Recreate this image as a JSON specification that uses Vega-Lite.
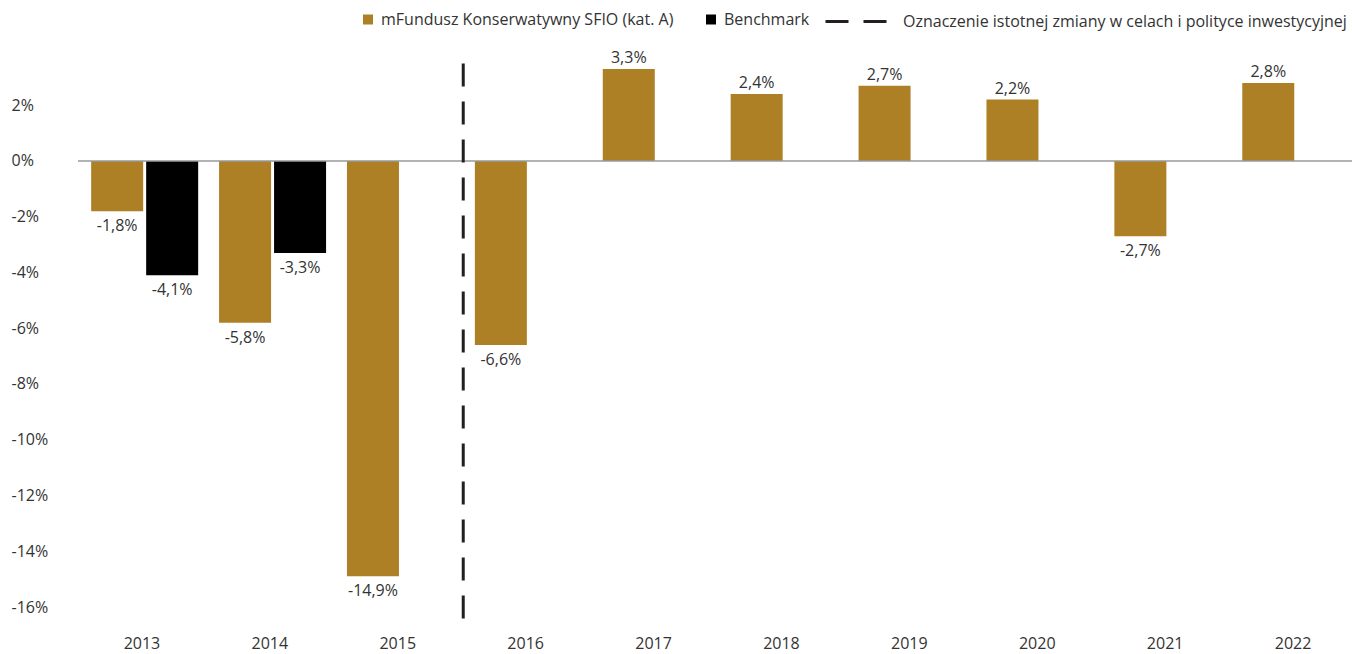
{
  "$schema": "https://vega.github.io/schema/vega-lite/v6.json",
  "width": 1274,
  "height": 599.4,
  "autosize": "none",
  "padding": {"left": 78, "top": 35.5, "right": 0, "bottom": 19.1},
  "background": "white",
  "config": {
    "view": {"stroke": null},
    "font": "Open Sans",
    "locale": {"number": {"decimal": ",", "thousands": " ", "grouping": [3], "currency": ["", ""], "minus": "-"}}
  },
  "datasets": {
    "bars": [
      {"year": "2013", "series": "mFundusz Konserwatywny SFIO (kat. A)", "value": -0.018},
      {"year": "2013", "series": "Benchmark", "value": -0.041},
      {"year": "2014", "series": "mFundusz Konserwatywny SFIO (kat. A)", "value": -0.058},
      {"year": "2014", "series": "Benchmark", "value": -0.033},
      {"year": "2015", "series": "mFundusz Konserwatywny SFIO (kat. A)", "value": -0.149},
      {"year": "2016", "series": "mFundusz Konserwatywny SFIO (kat. A)", "value": -0.066},
      {"year": "2017", "series": "mFundusz Konserwatywny SFIO (kat. A)", "value": 0.033},
      {"year": "2018", "series": "mFundusz Konserwatywny SFIO (kat. A)", "value": 0.024},
      {"year": "2019", "series": "mFundusz Konserwatywny SFIO (kat. A)", "value": 0.027},
      {"year": "2020", "series": "mFundusz Konserwatywny SFIO (kat. A)", "value": 0.022},
      {"year": "2021", "series": "mFundusz Konserwatywny SFIO (kat. A)", "value": -0.027},
      {"year": "2022", "series": "mFundusz Konserwatywny SFIO (kat. A)", "value": 0.028}
    ],
    "marker": [
      {"year": "2016", "label": "Oznaczenie istotnej zmiany w celach i polityce inwestycyjnej"}
    ]
  },
  "data": {"name": "bars"},
  "layer": [
    {
      "mark": {"type": "bar"},
      "encoding": {
        "x": {
          "field": "year", "type": "nominal",
          "sort": ["2013","2014","2015","2016","2017","2018","2019","2020","2021","2022"],
          "scale": {"paddingInner": 0, "paddingOuter": 0, "range": [0, 1279]},
          "axis": {"title": null, "domain": false, "ticks": false, "labelAngle": 0, "labelPadding": 1, "labelFontSize": 16, "labelColor": "#333333"}
        },
        "xOffset": {
          "field": "series", "type": "nominal",
          "scale": {"domain": ["mFundusz Konserwatywny SFIO (kat. A)", "Benchmark"], "paddingInner": 0.0545, "paddingOuter": 0.19, "align": 0.63}
        },
        "y": {
          "field": "value", "type": "quantitative",
          "scale": {"domain": [-0.17, 0.045], "nice": false, "zero": false},
          "axis": {"title": null, "domain": false, "ticks": false, "grid": false, "values": [-0.16,-0.14,-0.12,-0.1,-0.08,-0.06,-0.04,-0.02,0,0.02], "format": ".0%", "labelAlign": "left", "labelPadding": 67, "labelFontSize": 16, "labelColor": "#333333"}
        },
        "color": {
          "field": "series", "type": "nominal",
          "scale": {"domain": ["mFundusz Konserwatywny SFIO (kat. A)", "Benchmark"], "range": ["#ad8025", "#000000"]},
          "legend": {
            "title": null, "orient": "none", "direction": "horizontal", "legendX": 282, "legendY": -24,
            "symbolType": "square", "symbolSize": 100, "symbolStrokeWidth": 0, "labelOffset": 5,
            "labelFontSize": 16, "labelColor": "#333333", "labelLimit": 600, "columnPadding": 29
          }
        }
      }
    },
    {
      "transform": [{"filter": "datum.value < 0"}],
      "mark": {"type": "text", "baseline": "alphabetic", "dy": 20, "fontSize": 16, "color": "#333333"},
      "encoding": {
        "x": {"field": "year", "type": "nominal"},
        "xOffset": {"field": "series", "type": "nominal"},
        "y": {"field": "value", "type": "quantitative"},
        "text": {"field": "value", "type": "quantitative", "format": ".1%"}
      }
    },
    {
      "transform": [{"filter": "datum.value >= 0"}],
      "mark": {"type": "text", "baseline": "alphabetic", "dy": -6, "fontSize": 16, "color": "#333333"},
      "encoding": {
        "x": {"field": "year", "type": "nominal"},
        "xOffset": {"field": "series", "type": "nominal"},
        "y": {"field": "value", "type": "quantitative"},
        "text": {"field": "value", "type": "quantitative", "format": ".1%"}
      }
    },
    {
      "data": {"name": "marker"},
      "mark": {"type": "rule", "color": "#999999", "strokeWidth": 1.5},
      "encoding": {"y": {"datum": 0}}
    },
    {
      "data": {"name": "marker"},
      "mark": {"type": "rule", "color": "#231f20", "strokeWidth": 3},
      "encoding": {
        "x": {"field": "year", "type": "nominal", "bandPosition": 0.012},
        "y": {"datum": 0.035},
        "y2": {"datum": -0.165},
        "strokeDash": {
          "field": "label", "type": "nominal",
          "scale": {"domain": ["Oznaczenie istotnej zmiany w celach i polityce inwestycyjnej"], "range": [[23, 15]]},
          "legend": {
            "title": null, "orient": "none", "legendX": 746, "legendY": -46,
            "symbolType": "stroke", "symbolSize": 3721, "symbolStrokeWidth": 3, "symbolStrokeColor": "#231f20",
            "labelOffset": 15, "labelFontSize": 16, "labelColor": "#333333", "labelLimit": 800
          }
        }
      }
    }
  ]
}
